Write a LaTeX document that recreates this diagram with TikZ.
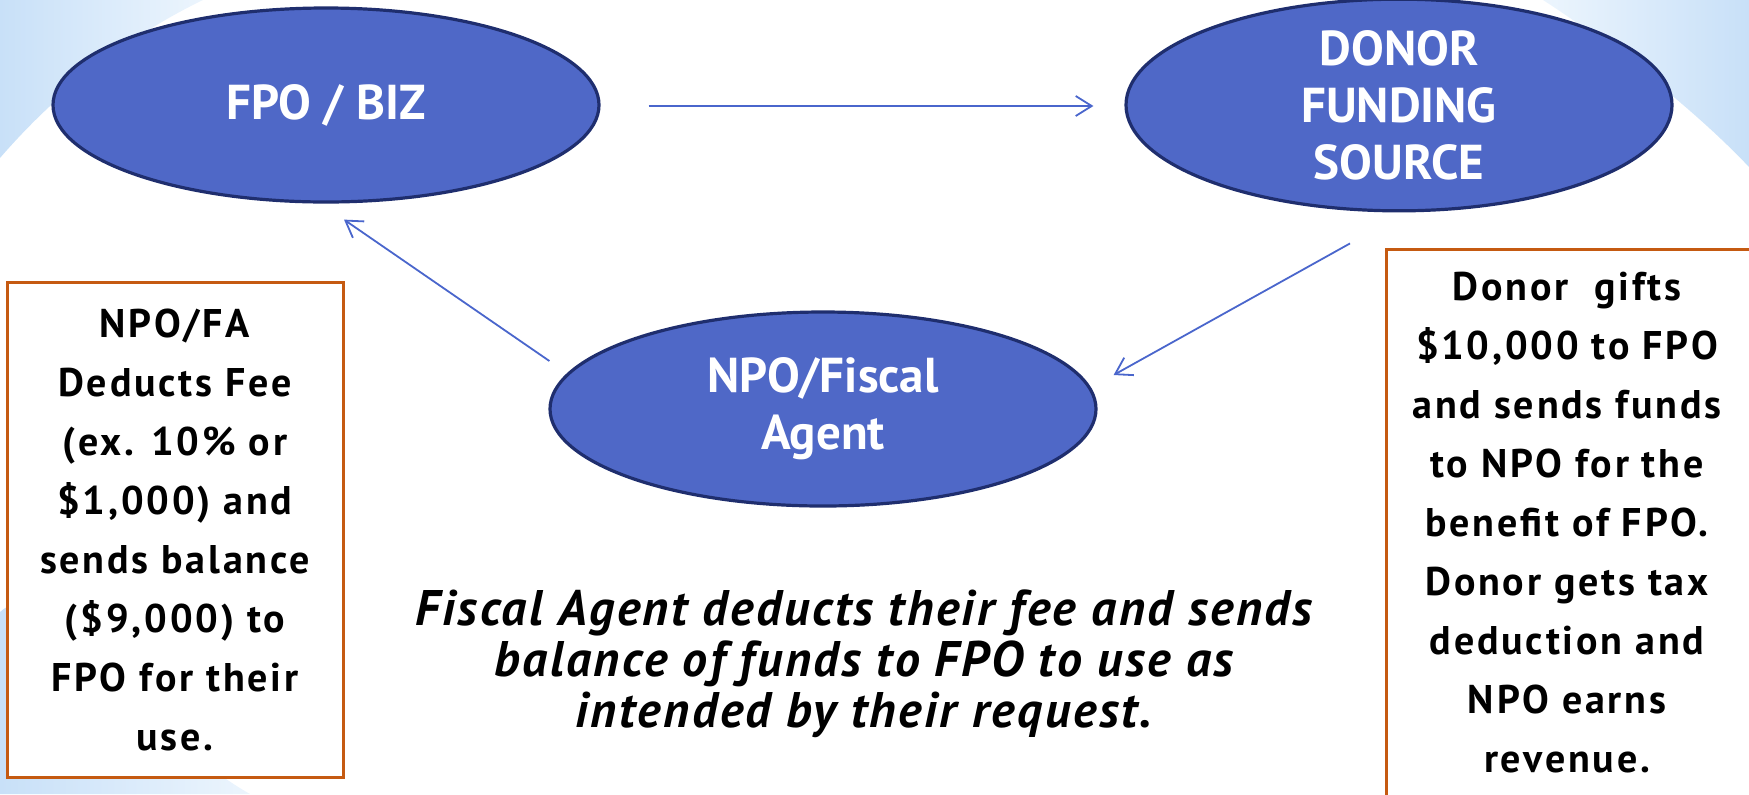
\documentclass[tikz,border=0pt]{standalone}
\usepackage{fontspec}
\setmainfont{PT Sans}
\usetikzlibrary{shapes.geometric,arrows.meta}
\definecolor{ovalblue}{RGB}{79,104,199}
\definecolor{ovalline}{RGB}{31,46,110}
\definecolor{flowblue}{RGB}{74,102,204}
\definecolor{noteorange}{RGB}{197,90,17}
\definecolor{swooshdark}{RGB}{200,224,248}
\definecolor{swooshlight}{RGB}{236,245,253}
\tikzstyle{party}=[ellipse,draw=ovalline,line width=1.6pt,fill=ovalblue,text=white,minimum width=273pt,minimum height=97pt,inner sep=0pt,align=center,font=\fontsize{24.5pt}{28.5pt}\selectfont\bfseries]
\tikzstyle{flow}=[draw=flowblue,line width=0.9pt,-{Straight Barb[length=8pt,width=10pt]}]
\tikzstyle{notebox}=[draw=noteorange,line width=1.5pt,fill=white,inner sep=0pt]
\tikzstyle{notetext}=[align=center,inner sep=0pt,font=\fontsize{20pt}{29.5pt}\selectfont\bfseries\addfontfeatures{LetterSpace=7}]

\begin{document}
\begin{tikzpicture}[x=0.5pt,y=-0.5pt]
  \useasboundingbox (0,0) rectangle (1749,794);
  % light swooshes in the corners
  \shade[left color=swooshdark,right color=swooshlight] (0,0) -- (203,0) .. controls (120,40) and (50,100) .. (0,158) -- cycle;
  \shade[left color=swooshlight,right color=swooshdark] (1543,0) -- (1749,0) -- (1749,167) .. controls (1700,115) and (1620,50) .. (1543,0) -- cycle;
  \shade[left color=swooshdark,right color=swooshlight] (0,794) -- (0,612) .. controls (60,560) and (120,720) .. (250,794) -- cycle;

  % First the three parties
  \node[party] (fpo) at (326,105) {FPO / BIZ};
  \node[party] (donor) at (1399,105) {DONOR\\FUNDING\\SOURCE};
  \node[party] (npo) at (823,409) {NPO/Fiscal\\Agent};

  % then the money flows between them
  \path[flow] ([shift={(48,1)}]fpo.east) -- ([shift={(-31,1)}]donor.west);
  \path[flow] ([shift={(-49,31)}]donor.south) -- ([shift={(16,-34)}]npo.east);
  \path[flow] ([shift={(1,-48)}]npo.west) -- ([shift={(18,16)}]fpo.south);

  % side notes
  \node[notebox,notetext,minimum width=168pt,minimum height=247.5pt] (feenote) at (175,529.5)
    {NPO/FA\\Deducts Fee\\(ex. 10\% or\\\$1,000) and\\sends balance\\(\$9,000) to\\FPO for their\\use.};
  \node[notebox,minimum width=190pt,minimum height=280.5pt] (giftnote) at (1576,529.5) {};
  \node[notetext,anchor=north] (gifttext) at ([shift={(-9,24)}]giftnote.north)
    {Donor\ \ gifts\\\$10,000 to FPO\\and sends funds\\to NPO for the\\benefit of FPO.\\Donor gets tax\\deduction and\\NPO earns\\revenue.};

  \node[align=center,font=\fontsize{25pt}{25.5pt}\selectfont\bfseries\itshape\addfontfeatures{LetterSpace=5}] (summary) at (864,664)
    {Fiscal Agent deducts their fee and sends\\balance of funds to FPO to use as\\intended by their request.};
\end{tikzpicture}
\end{document}
